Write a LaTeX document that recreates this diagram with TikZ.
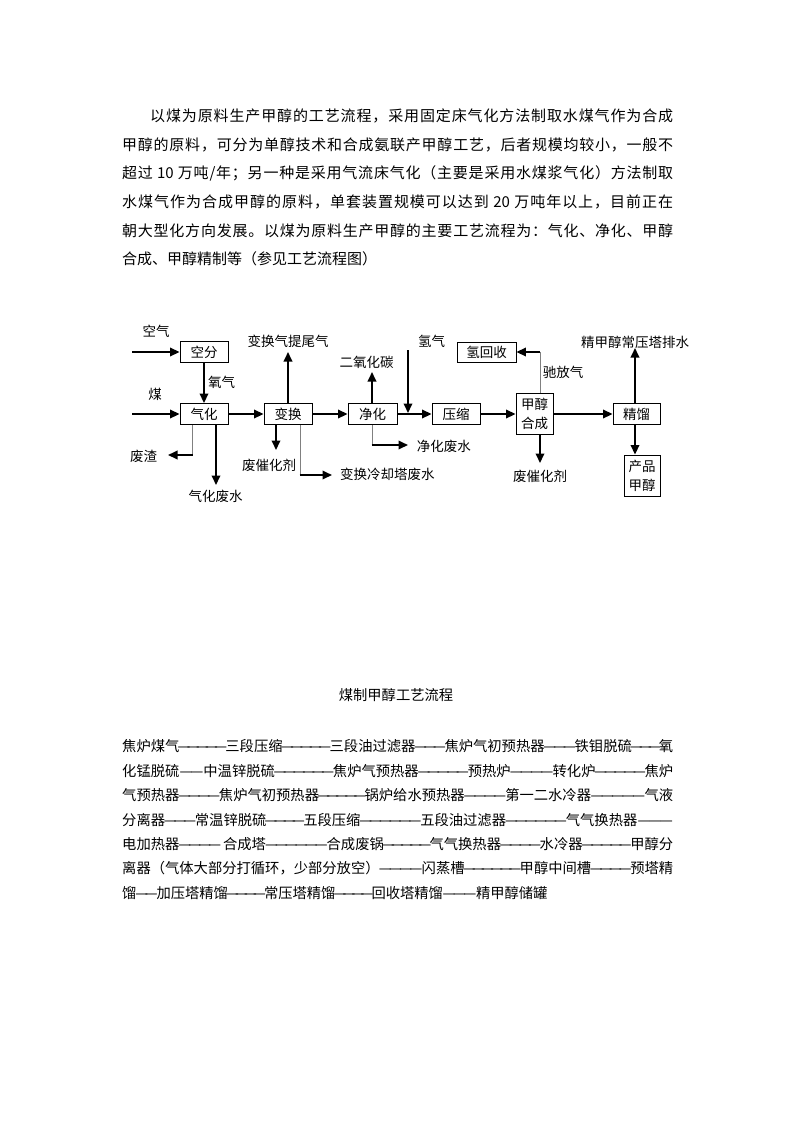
\documentclass[tikz,border=0pt]{standalone}
\usepackage{fontspec}
\setmainfont{Noto Sans CJK SC}
\usetikzlibrary{arrows.meta}
\makeatletter
\newcommand\spreadtext[1]{\def\sp@first{1}\@tfor\sp@t:=#1\do{\ifnum\sp@first=1 \def\sp@first{0}\else\hskip 0pt plus 1fil\relax\fi\sp@t}}
\makeatother
\newcommand\pline[5]{\node[anchor=base west,inner sep=0pt] (#1) at (#2,#3) {\fontsize{15}{15}\selectfont\hbox to #4pt{\spreadtext{#5}}};}
\newcommand\dsh[1]{\xleaders\hbox to 9pt{\hss—\hss}\hskip #1pt plus 1fil minus 1fil\relax}
\newcommand\bline[3]{\node[anchor=base west,inner sep=0pt] (#1) at (122,#2) {\fontsize{14.3}{14.3}\selectfont\hbox to 551pt{#3}};}
\newcommand\blast[3]{\node[anchor=base west,inner sep=0pt] (#1) at (122,#2) {\fontsize{14.3}{14.3}\selectfont\hbox{#3}};}
\begin{document}
\begin{tikzpicture}[x=1pt,y=-1pt,
  box/.style={draw, line width=0.9pt, inner sep=0pt, minimum width=48pt, minimum height=21pt, font=\fontsize{13.5}{19}\selectfont},
  flow/.style={line width=1.8pt, -{Triangle[length=9.5pt,width=8.5pt]}},
  gline/.style={draw=gray, line width=1pt},
  lbl/.style={inner sep=0pt, font=\fontsize{13.5}{14}\selectfont}]
\fill[white] (0,0) rectangle (793,1122);
\useasboundingbox (0,0) rectangle (793,1122);

% ---------- paragraph ----------
\pline{p1}{150}{121.7}{523}{以煤为原料生产甲醇的工艺流程，采用固定床气化方法制取水煤气作为合成}
\pline{p2}{122}{150.3}{551}{甲醇的原料，可分为单醇技术和合成氨联产甲醇工艺，后者规模均较小，一般不}
\pline{p3}{122}{178.9}{551}{超过{\ 10\ }万吨{/}年；另一种是采用气流床气化（主要是采用水煤浆气化）方法制取}
\pline{p4}{122}{207.5}{551}{水煤气作为合成甲醇的原料，单套装置规模可以达到{\ 20\ }万吨年以上，目前正在}
\pline{p5}{122}{236.1}{551}{朝大型化方向发展。以煤为原料生产甲醇的主要工艺流程为：气化、净化、甲醇}
\pline{p6}{122}{264.7}{255}{合成、甲醇精制等（参见工艺流程图）}

% ---------- diagram boxes ----------
\node[box] (kongfen) at (204,352) {空分};
\node[box] (qihua) at (204,414) {气化};
\node[box] (bianhuan) at (288,414) {变换};
\node[box, minimum width=49pt] (jinghua) at (372.5,414) {净化};
\node[box] (yasuo) at (456,414) {压缩};
\node[box, minimum width=37pt, minimum height=41pt, align=center] (hecheng) at (534.5,413.5) {甲醇\\合成};
\node[box, minimum width=47pt] (jingliu) at (636.5,414) {精馏};
\node[box, minimum width=36pt, minimum height=41pt, align=center] (chanpin) at (642,475.5) {产品\\甲醇};
\node[box, minimum width=59pt, minimum height=20pt] (qhs) at (486.5,352) {氢回收};

% ---------- labels ----------
\node[lbl] (tkq) at (156,331) {空气};
\node[lbl] (tmei) at (155,394) {煤};
\node[lbl] (tyq) at (221.5,382.5) {氧气};
\node[lbl] (tbhq) at (288,341) {变换气提尾气};
\node[lbl] (tco2) at (366.7,362.5) {二氧化碳};
\node[lbl] (th2) at (431.7,341) {氢气};
\node[lbl] (tcfq) at (563,372.5) {驰放气};
\node[lbl] (tjjc) at (635,342.5) {精甲醇常压塔排水};
\node[lbl] (tfz) at (143.5,456) {废渣};
\node[lbl] (tqhfs) at (215.5,496.5) {气化废水};
\node[lbl] (tfch1) at (269,465) {废催化剂};
\node[lbl, anchor=west] (tbhls) at (340,474.5) {变换冷却塔废水};
\node[lbl, anchor=west] (tjhfs) at (416.7,446) {净化废水};
\node[lbl] (tfch2) at (540,476) {废催化剂};

% ---------- coordinates ----------
\coordinate (airin) at (132,352);
\coordinate (meiin) at (132,414);
\coordinate (bhup) at (288,352);
\coordinate (jhup) at (372,372);
\coordinate (h2top) at (408,350);
\coordinate (h2join) at (408,413);
\coordinate (pg) at (540,352);
\coordinate (hcd) at (540,463);
\coordinate (jlx) at (635,348);
\coordinate (fz1) at (192,455);
\coordinate (fz2) at (168,455);
\coordinate (qhd) at (216,485);
\coordinate (bhd) at (276,450);
\coordinate (bhg1) at (300,475);
\coordinate (bhg2) at (332,475);
\coordinate (jhg1) at (372,445);
\coordinate (jhg2) at (408,445);

% ---------- connectors ----------
\draw[flow] (airin) -- (kongfen.west);
\draw[flow] (meiin) -- (qihua.west);
\draw[flow] (kongfen) -- (qihua);
\draw[flow] (qihua) -- (bianhuan);
\draw[flow] (bianhuan.north) -- (bhup);
\draw[flow] (bianhuan) -- (jinghua);
\draw[flow] (jinghua.north -| jhup) -- (jhup);
\draw[flow] (jinghua) -- (yasuo);
\draw[flow] (h2top) -- (h2join);
\draw[flow] (yasuo.east) -- (hecheng.west |- yasuo.east);
\draw[flow] (hecheng.east |- jingliu.west) -- (jingliu.west);
\draw[gline] (hecheng.north -| pg) -- (pg);
\draw[flow] ([xshift=-0.5pt]pg) -- (qhs.east |- pg);
\draw[flow] (hecheng.south -| hcd) -- (hcd);
\draw[flow] (jingliu.north -| jlx) -- (jlx);
\draw[flow] (jingliu.south -| jlx) -- (chanpin.north -| jlx);
\draw[gline] (qihua.south -| fz1) -- (fz1);
\draw[flow] ([xshift=0.5pt]fz1) -- (fz2);
\draw[flow] (qihua.south -| qhd) -- (qhd);
\draw[flow] (bianhuan.south -| bhd) -- (bhd);
\draw[gline] (bianhuan.south -| bhg1) -- (bhg1);
\draw[flow] ([xshift=-0.5pt]bhg1) -- (bhg2);
\draw[gline] (jinghua.south -| jhg1) -- (jhg1);
\draw[flow] ([xshift=-0.5pt]jhg1) -- (jhg2);

% ---------- title ----------
\node[inner sep=0pt, font=\fontsize{14.3}{14.3}\selectfont] (title) at (396,695) {煤制甲醇工艺流程};

% ---------- process text ----------
\bline{b1}{751.8}{焦炉煤气\dsh{44}三段压缩\dsh{45}三段油过滤器\dsh{27}焦炉气初预热器\dsh{28}铁钼脱硫\dsh{25}氧}
\bline{b2}{776.2}{化锰脱硫\dsh{20}中温锌脱硫\dsh{54}焦炉气预热器\dsh{45}预热炉\dsh{38}转化炉\dsh{45}焦炉}
\bline{b3}{800.6}{气预热器\dsh{35}焦炉气初预热器\dsh{41}锅炉给水预热器\dsh{36}第一二水冷器\dsh{49}气液}
\bline{b4}{825.0}{分离器\dsh{30}常温锌脱硫\dsh{37}五段压缩\dsh{60}五段油过滤器\dsh{60}气气换热器\dsh{36}}
\bline{b5}{849.4}{电加热器\dsh{40}\hskip3pt 合成塔\dsh{60}合成废锅\dsh{45}气气换热器\dsh{38}水冷器\dsh{47}甲醇分}
\bline{b6}{873.8}{离器（气体大部分打循环，少部分放空）\dsh{40}闪蒸槽\dsh{53}甲醇中间槽\dsh{37}预塔精}
\blast{b7}{898.2}{馏\dsh{20}加压塔精馏\dsh{36}常压塔精馏\dsh{36}回收塔精馏\dsh{33}精甲醇储罐}
\end{tikzpicture}
\end{document}
